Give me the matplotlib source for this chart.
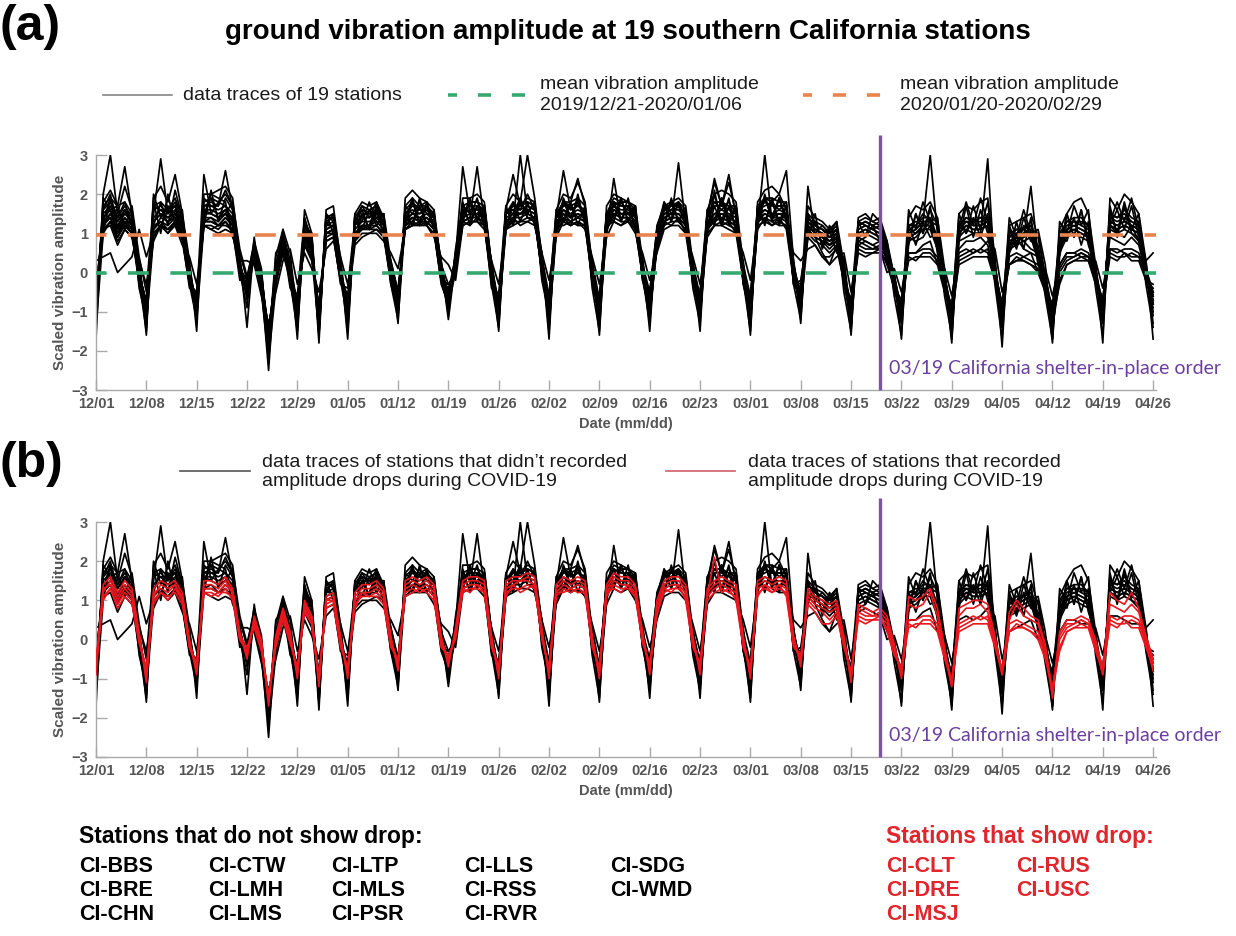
import numpy as np
import pandas as pd
import matplotlib
matplotlib.use("Agg")
import matplotlib.pyplot as plt
from matplotlib.lines import Line2D

# ---- daily scaled vibration amplitude (x10), 2019/12/01 .. 2020/04/26, weeks start on Sunday ----
# stations without a COVID-19 drop
BBS = [-17, 20, 30, 15, 22, 16, 2, -16, 19, 22, 18, 25, 15, 3, -15, 20, 20, 21, 22, 19, 4, -14, 8, -3, -25, 2, 10, 3,
       -17, 16, 10, -18, 16, 17, 3, -17, 15, 18, 17, 18, 14, 2, -13, 19, 21, 19, 18, 16, 2, -12, 3, 19, 19, 20, 18, 2,
       -15, 17, 20, 18, 30, 19, 4, -17, 16, 20, 19, 23, 18, 2, -16, 17, 20, 19, 18, 17, 3, -15, 12, 17, 18, 19, 17, 2,
       -15, 16, 20, 21, 20, 18, 2, -16, 18, 21, 22, 20, 26, 3, -13, 17, 14, 13, 11, 13, 2, -16, 14, 15, 13, 14, 8, -1,
       -17, 14, 17, 16, 18, 14, -1, -18, 15, 17, 16, 18, 19, 4, -19, 12, 13, 14, 15, 9, -1, -18, 11, 15, 18, 19, 15, 2,
       -18, 19, 16, 20, 18, 15, 3, -17]
BRE = [-9, 16, 18, 13, 16, 13, 0, -12, 15, 29, 15, 17, 12, -1, -10, 17, 17, 16, 17, 15, 1, -6, 6, -1, -19, -1, 8, 0,
       -11, 11, 7, -13, 12, 13, -1, -11, 12, 15, 15, 15, 13, -1, -9, 15, 17, 16, 16, 14, -1, -8, 3, 16, 17, 16, 16, -1,
       -10, 15, 17, 17, 18, 17, 1, -11, 14, 26, 16, 17, 16, -1, -10, 14, 18, 17, 17, 15, 0, -9, 10, 16, 17, 17, 15, -1,
       -9, 14, 17, 17, 16, 15, -1, -10, 16, 18, 17, 17, 17, -1, -7, 14, 12, 11, 9, 11, -1, -11, 12, 13, 12, 11, 6, -3,
       -13, 8, 15, 10, 16, 12, -1, -10, 15, 10, 17, 11, 18, 2, -14, 12, 7, 14, 9, 10, -1, -10, 5, 15, 9, 16, 8, 1,
       -13, 16, 10, 18, 11, 15, 1, -8]
CHN = [3, 4, 5, 0, 2, 4, 11, 4, 10, 12, 11, 13, 9, -3, -5, 13, 14, 12, 14, 12, 0, -3, 4, -3, -16, 1, 6, 2,
       -8, 9, 5, -10, 10, 11, 1, -8, 7, 9, 10, 11, 10, 1, -6, 13, 14, 14, 14, 12, 1, -5, 4, 27, 15, 15, 14, 1,
       -8, 13, 15, 15, 16, 15, 3, -8, 12, 16, 14, 15, 14, 1, -8, 12, 16, 15, 15, 13, 2, -7, 8, 14, 15, 15, 13, 1,
       -7, 12, 15, 15, 14, 13, 1, -8, 14, 16, 15, 15, 15, 1, -5, 12, 10, 9, 7, 9, 1, -9, 10, 11, 10, 9, 4, -1,
       -9, 9, 10, 12, 12, 7, -1, -10, 10, 12, 11, 11, 12, 2, -10, 7, 8, 9, 22, 4, -1, -10, 6, 10, 11, 10, 9, 1,
       -9, 12, 11, 12, 11, 10, 1, -6]
CTW = [-13, 18, 21, 17, 27, 15, 1, -14, 17, 18, 16, 19, 14, 1, -12, 18, 19, 18, 20, 17, 3, -7, 7, -2, -21, 1, 9, 2,
       -14, 13, 9, -16, 14, 15, 2, -14, 13, 17, 16, 17, 14, 1, -11, 17, 19, 17, 17, 15, 1, -10, 4, 17, 18, 18, 17, 1,
       -13, 16, 25, 17, 19, 18, 3, -14, 15, 18, 18, 19, 17, 1, -13, 15, 19, 18, 18, 16, 2, -12, 11, 17, 17, 18, 16, 1,
       -12, 15, 18, 18, 17, 17, 1, -13, 17, 19, 19, 18, 18, 2, -11, 15, 13, 12, 10, 12, 1, -14, 13, 14, 13, 12, 7, -1,
       -12, 16, 11, 18, 13, 14, 1, -17, 11, 18, 12, 19, 13, -2, -12, 14, 9, 16, 10, 11, 2, -17, 13, 10, 17, 12, 16, -1,
       -12, 13, 18, 13, 19, 11, 3, -13]
LMH = [-6, 14, 16, 10, 14, 11, -1, -9, 13, 15, 13, 15, 11, -2, -7, 25, 15, 14, 15, 13, 0, -3, 5, -2, -16, -2, 6, -1,
       -8, 9, 5, -10, 10, 11, -1, -6, 8, 15, 11, 16, 10, -3, -9, 15, 12, 17, 12, 15, 2, -3, -1, 16, 13, 17, 12, -3,
       -10, 11, 18, 13, 18, 12, 4, -6, 15, 13, 18, 24, 17, -3, -10, 10, 18, 13, 17, 11, 2, -5, 11, 12, 18, 13, 16, -3,
       -10, 10, 17, 12, 17, 11, 2, -6, 16, 13, 18, 13, 17, -3, -5, 12, 10, 9, 7, 9, -1, -9, 10, 11, 10, 9, 4, -3,
       -9, 9, 10, 12, 12, 7, -3, -10, 10, 12, 11, 11, 12, 0, -10, 7, 8, 9, 10, 4, -3, -10, 6, 10, 11, 10, 9, -1,
       -9, 12, 11, 12, 11, 10, -1, -5]
LMS = [-11, 17, 19, 14, 17, 14, 2, -11, 16, 17, 15, 18, 13, 0, -9, 17, 18, 17, 26, 16, 2, -5, 6, 0, -18, 0, 8, 1,
       -10, 12, 8, -12, 13, 14, 0, -10, 13, 16, 15, 16, 13, 0, -8, 16, 18, 16, 16, 14, 0, -7, 2, 16, 17, 17, 16, 0,
       -10, 15, 17, 17, 18, 17, 2, -10, 14, 18, 16, 17, 16, 0, -10, 14, 18, 17, 17, 15, 1, -9, 10, 16, 17, 17, 15, 0,
       -9, 14, 24, 17, 23, 15, 0, -10, 16, 18, 17, 17, 17, 0, -8, 14, 12, 11, 9, 11, 0, -11, 12, 13, 12, 11, 6, -2,
       -11, 11, 12, 14, 14, 9, -2, -12, 12, 14, 13, 13, 14, 1, -12, 9, 10, 11, 12, 6, -2, -12, 8, 12, 13, 12, 11, 0,
       -11, 14, 13, 14, 13, 12, 0, -10]
LTP = [-4, 12, 14, 9, 13, 10, -3, -7, 11, 13, 11, 13, 9, -4, -5, 13, 13, 12, 13, 11, -2, -1, 3, -4, -14, -3, 5, -2,
       -6, 7, 3, -8, 8, 9, -2, -6, 9, 12, 12, 12, 10, -2, -4, 12, 14, 13, 13, 11, -2, -3, 0, 13, 14, 27, 13, -2,
       -6, 12, 14, 14, 15, 14, 0, -6, 11, 15, 13, 14, 13, -2, -6, 11, 15, 14, 14, 12, -1, -5, 6, 13, 14, 14, 12, -2,
       -5, 11, 14, 14, 13, 12, -2, -6, 13, 15, 14, 14, 14, -2, -3, 11, 9, 8, 6, 8, -2, -7, 9, 10, 9, 8, 3, -4,
       -7, 8, 9, 11, 11, 6, -4, -8, 9, 11, 10, 10, 29, -1, -8, 6, 7, 8, 9, 3, -4, -8, 5, 9, 10, 9, 8, -2,
       -7, 11, 10, 11, 10, 9, -2, -3]
MLS = [-8, 15, 17, 13, 16, 13, 1, -10, 14, 16, 14, 16, 12, 0, -8, 16, 16, 15, 16, 14, 2, -4, 5, -2, -17, 0, 7, 1,
       -9, 10, 6, -11, 11, 12, 0, -9, 13, 11, 16, 12, 15, 3, -5, 12, 18, 13, 17, 11, -3, -8, 4, 13, 18, 14, 17, 2,
       -9, 16, 13, 30, 15, 18, -2, -11, 11, 19, 14, 18, 13, 3, -7, 15, 14, 19, 13, 17, -2, -10, 6, 17, 13, 18, 12, 2,
       -6, 15, 13, 19, 13, 17, -3, -11, 12, 19, 14, 19, 13, 2, -6, 13, 11, 10, 8, 10, 0, -10, 11, 12, 11, 10, 5, -2,
       -10, 10, 11, 13, 13, 8, -2, -11, 11, 13, 12, 12, 13, 1, -11, 8, 9, 10, 11, 5, -2, -11, 7, 11, 12, 11, 10, 0,
       -10, 13, 12, 13, 12, 11, 0, -7]
PSR = [-10, 13, 15, 16, 12, 10, -2, -13, 9, 12, 16, 14, 8, -3, -6, 14, 20, 19, 18, 9, 5, -2, 8, 1, -20, 4, 11, 5,
       -12, 12, 10, -14, 12, 15, 4, -13, 14, 11, 12, 17, 9, 3, -5, 11, 13, 17, 18, 11, 3, -9, 5, 13, 14, 19, 12, 3,
       -11, 11, 13, 19, 14, 13, 5, -13, 10, 14, 12, 20, 12, 3, -12, 10, 24, 13, 19, 11, 4, -11, 7, 12, 19, 13, 11, 3,
       -11, 10, 20, 13, 19, 10, 3, -12, 12, 20, 13, 19, 13, 3, -9, 9, 15, 6, 11, 5, 4, -13, 8, 9, 15, 13, 2, 0,
       -13, 7, 15, 10, 17, 5, 0, -14, 8, 17, 9, 16, 10, 3, -14, 5, 13, 6, 14, 2, 0, -14, 4, 15, 9, 16, 7, 2,
       -13, 17, 9, 17, 10, 8, 2, -11]
LLS = [-14, 10, 19, 17, 11, 17, 4, -5, 18, 10, 20, 12, 16, -3, -12, 12, 21, 13, 19, 16, 0, -9, 9, -5, -19, 5, 8, -4,
       -6, 14, 4, -15, 15, 10, -3, -4, 13, 16, 11, 15, 15, -2, -10, 16, 12, 19, 12, 16, -2, -4, 1, 18, 12, 17, 14, -4,
       -6, 17, 12, 18, 15, 18, -1, -6, 16, 13, 18, 12, 17, -3, -7, 15, 13, 19, 13, 16, -2, -5, 11, 18, 13, 28, 12, -3,
       -5, 16, 12, 19, 12, 17, -3, -7, 17, 12, 19, 12, 17, -3, -2, 10, 13, 7, 12, 8, -3, -7, 13, 9, 12, 8, 6, -5,
       -8, 12, 7, 13, 9, 10, -5, -9, 13, 10, 14, 9, 15, -1, -9, 11, 6, 12, 8, 7, -4, -9, 9, 8, 14, 7, 13, -2,
       -8, 12, 16, 11, 17, 9, -2, -4]
RSS = [-12, 19, 16, 17, 18, 12, -2, -15, 20, 14, 17, 15, 14, 2, -10, 15, 19, 14, 15, 18, 6, -1, 7, -5, -22, -4, 11, -2,
       -15, 13, 9, -16, 14, 14, 1, -15, 15, 14, 16, 14, 15, -3, -12, 13, 15, 15, 17, 14, 3, -11, 6, 17, 15, 15, 17, -3,
       -14, 15, 16, 15, 17, 16, 5, -15, 14, 17, 17, 14, 16, -4, -15, 14, 17, 15, 15, 17, -1, -13, 11, 15, 15, 17, 15, -4,
       -13, 15, 23, 17, 25, 14, -2, -15, 16, 17, 18, 16, 18, -3, -12, 15, 10, 12, 10, 13, -5, -15, 13, 12, 11, 12, 8, -6,
       -16, 12, 12, 15, 13, 12, -6, -16, 13, 13, 13, 14, 14, -3, -17, 10, 11, 11, 12, 6, -6, -17, 10, 13, 13, 13, 12, -4,
       -16, 15, 14, 15, 13, 12, -3, -14]
RVR = [-3, 11, 12, 7, 11, 9, 3, -3, 8, 12, 10, 12, 7, 4, -3, 12, 11, 10, 11, 10, 3, 3, 2, -6, -13, -5, 3, 6,
       -3, 5, 1, -5, 6, 8, 4, -3, 8, 10, 10, 10, 8, 5, 1, 11, 12, 12, 12, 9, 4, 2, -2, 12, 13, 13, 11, 3,
       -3, 11, 12, 13, 13, 12, 5, -2, 9, 13, 12, 13, 11, 4, -3, 9, 13, 12, 13, 10, 5, -2, 5, 11, 12, 12, 10, 4,
       -3, 9, 12, 12, 11, 10, 5, -2, 12, 30, 13, 12, 12, 5, 3, 6, 7, 4, 2, 4, 5, -5, 7, 8, 7, 6, 0, 1,
       -5, 5, 5, 7, 8, 2, 1, -6, 5, 6, 5, 6, 8, 6, -5, 2, 3, 4, 5, 0, 1, -6, 2, 5, 5, 4, 4, 3,
       -4, 6, 6, 5, 4, 4, 3, 5]
SDG = [-7, 16, 20, 11, 16, 12, 0, -8, 17, 16, 16, 17, 10, 1, -9, 16, 15, 18, 17, 13, 1, -5, 6, -1, -18, 1, 7, 0,
       -10, 11, 7, -12, 12, 12, 0, -12, 14, 13, 18, 13, 13, 2, -6, 13, 19, 12, 18, 11, -2, -9, 5, 14, 19, 13, 17, 2,
       -8, 16, 15, 19, 14, 14, 0, -12, 11, 18, 14, 19, 13, 2, -8, 15, 14, 18, 15, 16, -1, -11, 7, 18, 15, 17, 12, 2,
       -7, 15, 13, 19, 14, 17, -2, -12, 13, 19, 14, 19, 14, 2, -7, 22, 9, 5, 2, 7, 0, -11, 11, 12, 11, 10, 5, -2,
       -11, 10, 11, 13, 13, 8, -2, -12, 11, 13, 12, 12, 13, 1, -12, 8, 9, 10, 11, 5, -2, -12, 7, 11, 12, 11, 10, 0,
       -11, 13, 12, 13, 12, 11, 0, -8]
WMD = [-9, 13, 19, 14, 18, 15, -4, -12, 12, 18, 12, 21, 14, -1, -11, 19, 17, 17, 21, 17, 3, -6, 4, -3, -20, -2, 9, -3,
       -12, 14, 8, -14, 15, 13, -2, -12, 14, 17, 14, 18, 12, -1, -10, 17, 15, 18, 15, 15, -2, -8, 0, 15, 18, 18, 15, -2,
       -12, 15, 18, 16, 20, 16, 1, -12, 14, 18, 17, 18, 14, -2, -11, 15, 17, 18, 18, 14, -1, -10, 9, 16, 16, 18, 14, -2,
       -10, 14, 18, 16, 18, 15, -2, -12, 16, 19, 18, 20, 16, -2, -8, 14, 12, 11, 10, 11, -3, -12, 12, 13, 12, 13, 6, -4,
       -12, 12, 13, 13, 30, 10, -4, -13, 12, 14, 13, 14, 14, -1, -13, 9, 11, 11, 13, 6, -4, -13, 9, 13, 14, 14, 12, -2,
       -12, 15, 14, 16, 14, 13, -2, -9]

# stations with a COVID-19 drop
CLT = [-8, 12, 15, 11, 14, 12, 1, -10, 11, 14, 13, 14, 11, -1, -8, 14, 14, 13, 15, 12, 1, -4, 5, -1, -16, 0, 7, 1,
       -9, 9, 5, -11, 10, 11, 0, -9, 11, 13, 13, 14, 12, 0, -7, 14, 15, 14, 15, 13, 0, -6, 2, 14, 15, 15, 14, 0,
       -9, 14, 15, 15, 16, 15, 2, -9, 13, 15, 14, 15, 14, 0, -9, 13, 16, 15, 15, 13, 1, -8, 9, 14, 15, 15, 13, 0,
       -8, 12, 14, 15, 14, 13, 0, -9, 14, 15, 14, 15, 14, 0, -6, 12, 10, 9, 8, 9, 0, -10, 8, 7, 6, 6, 4, -2,
       -9, 9, 8, 9, 12, 6, -3, -11, 6, 8, 8, 9, 7, 0, -8, 5, 9, 6, 5, 4, -2, -13, 1, 4, 4, 5, 4, -1,
       -7, 9, 8, 7, 9, 7, 0, -6]
DRE = [-6, 10, 13, 9, 12, 10, 0, -8, 9, 12, 11, 12, 9, -2, -7, 12, 12, 11, 13, 10, 0, -3, 4, -2, -15, -1, 6, 0,
       -8, 8, 4, -10, 9, 10, -1, -8, 9, 11, 11, 12, 10, -1, -6, 12, 13, 12, 13, 11, -1, -5, 1, 12, 13, 13, 12, -1,
       -8, 12, 13, 13, 14, 13, 1, -8, 11, 13, 12, 13, 12, -1, -8, 11, 14, 13, 13, 11, 0, -7, 7, 12, 13, 13, 11, -1,
       -7, 10, 12, 13, 12, 11, -1, -8, 12, 13, 12, 13, 12, -1, -5, 10, 8, 7, 5, 7, -1, -9, 6, 5, 5, 5, 3, -3,
       -8, 4, 3, 5, 5, 3, -4, -12, 3, 4, 5, 6, 5, -1, -9, 2, 3, 3, 2, 1, -4, -14, -2, 2, 3, 4, 3, -2,
       -9, 5, 4, 4, 5, 4, -1, -8]
MSJ = [-9, 14, 16, 12, 15, 13, 2, -11, 13, 15, 14, 15, 12, 0, -9, 15, 15, 14, 16, 13, 2, -5, 6, 0, -17, 1, 8, 2,
       -10, 10, 6, -12, 11, 12, 1, -10, 12, 14, 14, 15, 13, 1, -8, 15, 16, 15, 16, 14, 1, -7, 3, 15, 16, 16, 15, 1,
       -10, 15, 16, 16, 17, 16, 3, -10, 14, 16, 15, 16, 15, 1, -10, 14, 17, 16, 16, 14, 2, -9, 10, 15, 16, 16, 14, 1,
       -9, 13, 15, 16, 15, 14, 1, -10, 15, 16, 15, 16, 15, 1, -7, 13, 11, 10, 9, 10, 1, -11, 9, 8, 7, 8, 6, -1,
       -10, 11, 10, 11, 13, 8, -2, -12, 8, 9, 10, 10, 9, 1, -9, 7, 10, 8, 6, 5, -1, -15, 2, 5, 5, 6, 5, 0,
       -8, 12, 10, 9, 12, 8, 1, -5]
RUS = [-5, 11, 13, 8, 11, 9, -1, -7, 10, 12, 10, 13, 10, -2, -6, 12, 11, 12, 12, 11, 1, -2, 3, -3, -14, -2, 5, -1,
       -7, 7, 4, -9, 8, 9, -2, -7, 8, 12, 11, 11, 9, -2, -5, 11, 12, 13, 12, 10, -2, -4, 0, 13, 12, 14, 12, -2,
       -7, 11, 14, 12, 13, 14, 0, -7, 12, 12, 13, 12, 12, -2, -7, 12, 13, 12, 14, 11, -1, -6, 6, 13, 12, 14, 10, -2,
       -6, 11, 21, 12, 13, 10, -2, -7, 11, 14, 12, 14, 11, -2, -4, 9, 7, 4, 4, 6, -2, -8, 5, 4, 5, 6, 2, -4,
       -7, 3, 4, 4, 4, 2, -5, -10, 2, 3, 4, 4, 4, -2, -8, 2, 4, 3, 2, 0, -5, -12, -3, 2, 3, 3, 3, -3,
       -8, 4, 3, 5, 3, 3, -2, -7]
USC = [-7, 13, 14, 10, 13, 11, 0, -9, 12, 13, 12, 14, 10, -1, -7, 13, 13, 12, 14, 12, 0, -3, 5, -1, -15, 0, 7, 0,
       -8, 9, 6, -10, 10, 10, 0, -8, 10, 12, 12, 13, 11, 0, -6, 13, 14, 13, 14, 12, 0, -5, 1, 13, 14, 14, 13, 0,
       -8, 13, 14, 15, 15, 14, 1, -8, 12, 14, 13, 14, 13, 0, -8, 12, 15, 14, 14, 12, 1, -7, 8, 13, 14, 14, 12, 0,
       -7, 11, 13, 14, 13, 12, 0, -8, 13, 14, 13, 14, 13, 0, -5, 11, 9, 8, 7, 8, 0, -9, 7, 6, 6, 7, 5, -2,
       -9, 5, 5, 6, 6, 4, -3, -11, 4, 5, 6, 5, 6, 0, -8, 4, 5, 4, 3, 2, -3, -13, 0, 3, 4, 5, 4, -1,
       -9, 6, 5, 6, 6, 5, 0, -6]

STEADY_NAMES = ["CI-BBS", "CI-BRE", "CI-CHN", "CI-CTW", "CI-LMH", "CI-LMS", "CI-LTP",
                "CI-MLS", "CI-PSR", "CI-LLS", "CI-RSS", "CI-RVR", "CI-SDG", "CI-WMD"]
STEADY = [BBS, BRE, CHN, CTW, LMH, LMS, LTP, MLS, PSR, LLS, RSS, RVR, SDG, WMD]
DROP_NAMES = ["CI-CLT", "CI-DRE", "CI-MSJ", "CI-RUS", "CI-USC"]
DROP = [CLT, DRE, MSJ, RUS, USC]

START_DATE = "2019-12-01"
END_DATE = "2020-04-26"
SHELTER_DATE = "2020-03-19"
TICK_LABELS = ["12/01", "12/08", "12/15", "12/22", "12/29", "01/05", "01/12", "01/19", "01/26", "02/02", "02/09",
               "02/16", "02/23", "03/01", "03/08", "03/15", "03/22", "03/29", "04/05", "04/12", "04/19", "04/26"]
MEAN_HOLIDAY = 0.0   # 2019/12/21-2020/01/06
MEAN_NORMAL = 0.95   # 2020/01/20-2020/02/29

# ---- style ----
GREEN = "#35a96f"
ORANGE = "#e9834f"
PURPLE = "#7a55a6"
RED = "#e8161d"
AXIS_GRAY = "#a9a9a9"
LABEL_GRAY = "#555555"
W, H = 1236, 936

plt.rcParams["font.family"] = ["Liberation Sans", "DejaVu Sans"]
plt.rcParams["lines.scale_dashes"] = False

dates = pd.date_range(START_DATE, END_DATE, freq="D")
days = (dates - dates[0]).days.values
shelter_day = (pd.Timestamp(SHELTER_DATE) - dates[0]).days
tick_days = days[::7]

steady = [np.array(s) / 10.0 for s in STEADY]
drop = [np.array(s) / 10.0 for s in DROP]
for s in steady + drop:
    assert len(s) == len(days), len(s)


def fx(px):
    return px / W


def fy(py):
    return 1 - py / H


def style_axes(ax):
    ax.set_xlim(0, days[-1] + 0.4)
    ax.set_ylim(-3, 3)
    ax.set_xticks(tick_days)
    ax.set_xticklabels(TICK_LABELS)
    ax.set_yticks(range(-3, 4))
    for s in ["top", "right"]:
        ax.spines[s].set_visible(False)
    for s in ["left", "bottom"]:
        ax.spines[s].set_color(AXIS_GRAY)
        ax.spines[s].set_linewidth(1.0)
    ax.tick_params(axis="y", direction="in", length=8, width=1, color=AXIS_GRAY,
                   labelcolor=LABEL_GRAY, labelsize=10.5, pad=6)
    ax.tick_params(axis="x", direction="in", length=7, width=1, color=AXIS_GRAY,
                   labelcolor=LABEL_GRAY, labelsize=10.5, pad=5)
    for lab in ax.get_xticklabels() + ax.get_yticklabels():
        lab.set_fontweight("bold")
    ax.set_ylabel("Scaled vibration amplitude", fontsize=11, fontweight="bold", color=LABEL_GRAY)
    ax.yaxis.set_label_coords(-0.027, 0.5)
    ax.set_xlabel("Date (mm/dd)", fontsize=10.5, fontweight="bold", color=LABEL_GRAY)
    ax.xaxis.set_label_coords(0.5, -0.115)
    ax.patch.set_alpha(0)


def shelter_marker(ax, top):
    ax.plot([shelter_day, shelter_day], [-3, top], color=PURPLE, lw=2.4, clip_on=False, zorder=6,
            solid_capstyle="butt")
    ax.text(shelter_day + 1.25, -2.45, "03/19 California shelter-in-place order", color="#6a3f9e",
            fontsize=14, family=["Lato", "DejaVu Sans"], va="center", ha="left", zorder=7)


fig = plt.figure(figsize=(W / 100, H / 100), dpi=100)
fig.patch.set_facecolor("white")

ax_a = fig.add_axes([fx(96), fy(390), fx(1060), 235 / H])
ax_b = fig.add_axes([fx(96), fy(757), fx(1060), 235 / H])

# ---- (a) all 19 stations ----
for s in steady + drop:
    ax_a.plot(days, s, color="black", lw=1.25, zorder=2)
dash = (7.5, (15, 15.5))
ax_a.axhline(MEAN_HOLIDAY, color=GREEN, lw=2.6, linestyle=dash, zorder=4)
ax_a.axhline(MEAN_NORMAL, color=ORANGE, lw=2.6, linestyle=dash, zorder=4)
shelter_marker(ax_a, 3.5)
style_axes(ax_a)

# ---- (b) stations with / without drop ----
for s in steady:
    ax_b.plot(days, s, color="black", lw=1.25, zorder=2)
for s in drop:
    ax_b.plot(days, s, color=RED, lw=1.2, zorder=3)
shelter_marker(ax_b, 3.62)
style_axes(ax_b)

# ---- titles and legends ----
fig.text(fx(0), fy(27), "(a)", fontsize=36, fontweight="bold", va="center", ha="left")
fig.text(fx(0), fy(464), "(b)", fontsize=36, fontweight="bold", va="center", ha="left")
fig.text(fx(628), fy(32), "ground vibration amplitude at 19 southern California stations",
         fontsize=20, fontweight="bold", ha="center", va="center")

leg_kw = dict(fontsize=14, va="center", ha="left", color="#1a1a1a")
fig.add_artist(Line2D([fx(103), fx(172)], [fy(95), fy(95)], color="#7a7a7a", lw=1.1))
fig.text(fx(183), fy(95), "data traces of 19 stations", **leg_kw)
fig.add_artist(Line2D([fx(448), fx(530)], [fy(95), fy(95)], color=GREEN, lw=2.6,
                      linestyle=(3, (9.5, 15))))
fig.text(fx(540), fy(95), "mean vibration amplitude\n2019/12/21-2020/01/06", linespacing=1.3, **leg_kw)
fig.add_artist(Line2D([fx(803), fx(885)], [fy(95), fy(95)], color=ORANGE, lw=2.6,
                      linestyle=(3, (9.5, 15))))
fig.text(fx(900), fy(95), "mean vibration amplitude\n2020/01/20-2020/02/29", linespacing=1.3, **leg_kw)

fig.add_artist(Line2D([fx(180), fx(250)], [fy(471), fy(471)], color="#555555", lw=1.2))
fig.text(fx(262), fy(472), "data traces of stations that didn\u2019t recorded\namplitude drops during COVID-19",
         linespacing=1.2, **leg_kw)
fig.add_artist(Line2D([fx(666), fx(735)], [fy(471), fy(471)], color="#d66b74", lw=1.3))
fig.text(fx(748), fy(472), "data traces of stations that recorded\namplitude drops during COVID-19",
         linespacing=1.2, **leg_kw)

# ---- station lists ----
fig.text(fx(79), fy(836), "Stations that do not show drop:", fontsize=16.5, fontweight="bold", va="center")
fig.text(fx(886), fy(836), "Stations that show drop:", fontsize=16.5, fontweight="bold", va="center",
         color="#e0262c")
steady_cols = [79, 208, 331, 464, 610]
drop_cols = [886, 1016]
rows = [866, 890, 914]
for i, name in enumerate(STEADY_NAMES):
    fig.text(fx(steady_cols[i // 3]), fy(rows[i % 3]), name, fontsize=15.5, fontweight="bold", va="center")
for i, name in enumerate(DROP_NAMES):
    fig.text(fx(drop_cols[i // 3]), fy(rows[i % 3]), name, fontsize=15.5, fontweight="bold", va="center",
             color="#e0262c")

fig.savefig("out.png", dpi=100)
